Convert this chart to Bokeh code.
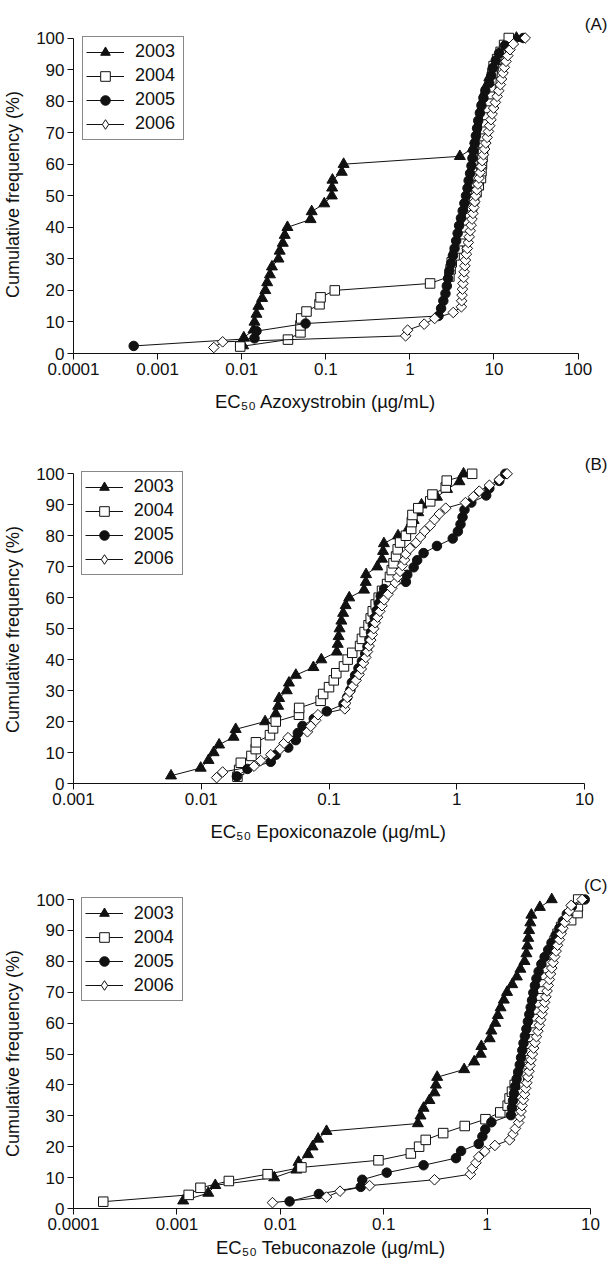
import math
from bokeh.plotting import figure
from bokeh.models import Range1d, FixedTicker, Legend, LegendItem, Label, ColumnDataSource
from bokeh.layouts import column
from bokeh.embed import file_html
from bokeh.resources import INLINE

FONT = "Liberation Sans"
INK = "#111111"
PAGE_W = 608
NBSP = "\u00a0"

YEARS = ["2003", "2004", "2005", "2006"]
Y_TICKS = [0, 10, 20, 30, 40, 50, 60, 70, 80, 90, 100]
Y_TITLE = "Cumulative frequency (%)"

A_TICKS = [0.0001, 0.001, 0.01, 0.1, 1, 10, 100]
A_TICK_LABELS = ["0.0001", "0.001", "0.01", "0.1", "1", "10", "100"]
B_TICKS = [0.001, 0.01, 0.1, 1, 10]
B_TICK_LABELS = ["0.001", "0.01", "0.1", "1", "10"]
C_TICKS = [0.0001, 0.001, 0.01, 0.1, 1, 10]
C_TICK_LABELS = ["0.0001", "0.001", "0.01", "0.1", "1", "10"]

# cumulative frequency levels (%)
Y40 = [2.5, 5, 7.5, 10, 12.5, 15, 17.5, 20, 22.5, 25, 27.5, 30, 32.5, 35, 37.5, 40, 42.5, 45, 47.5, 50,
       52.5, 55, 57.5, 60, 62.5, 65, 67.5, 70, 72.5, 75, 77.5, 80, 82.5, 85, 87.5, 90, 92.5, 95, 97.5, 100]
Y42 = [2.4, 4.8, 7.1, 9.5, 11.9, 14.3, 16.7, 19.0, 21.4, 23.8, 26.2, 28.6, 31.0, 33.3, 35.7, 38.1, 40.5,
       42.9, 45.2, 47.6, 50.0, 52.4, 54.8, 57.1, 59.5, 61.9, 64.3, 66.7, 69.0, 71.4, 73.8, 76.2, 78.6, 81.0,
       83.3, 85.7, 88.1, 90.5, 92.9, 95.2, 97.6, 100]
Y43 = [2.3, 4.7, 7.0, 9.3, 11.6, 14.0, 16.3, 18.6, 20.9, 23.3, 25.6, 27.9, 30.2, 32.6, 34.9, 37.2, 39.5,
       41.9, 44.2, 46.5, 48.8, 51.2, 53.5, 55.8, 58.1, 60.5, 62.8, 65.1, 67.4, 69.8, 72.1, 74.4, 76.7, 79.1,
       81.4, 83.7, 86.0, 88.4, 90.7, 93.0, 95.3, 97.7, 100]
Y45 = [2.2, 4.4, 6.7, 8.9, 11.1, 13.3, 15.6, 17.8, 20.0, 22.2, 24.4, 26.7, 28.9, 31.1, 33.3, 35.6, 37.8,
       40.0, 42.2, 44.4, 46.7, 48.9, 51.1, 53.3, 55.6, 57.8, 60.0, 62.2, 64.4, 66.7, 68.9, 71.1, 73.3, 75.6,
       77.8, 80.0, 82.2, 84.4, 86.7, 88.9, 91.1, 93.3, 95.6, 97.8, 100]
Y54 = [1.9, 3.7, 5.6, 7.4, 9.3, 11.1, 13.0, 14.8, 16.7, 18.5, 20.4, 22.2, 24.1, 25.9, 27.8, 29.6, 31.5,
       33.3, 35.2, 37.0, 38.9, 40.7, 42.6, 44.4, 46.3, 48.1, 50.0, 51.9, 53.7, 55.6, 57.4, 59.3, 61.1, 63.0,
       64.8, 66.7, 68.5, 70.4, 72.2, 74.1, 75.9, 77.8, 79.6, 81.5, 83.3, 85.2, 87.0, 88.9, 90.7, 92.6, 94.4,
       96.3, 98.1, 100]

# (A) Azoxystrobin EC50 (ug/mL)
A2003_X = [0.0104, 0.0106, 0.0138, 0.0142, 0.0150, 0.0158, 0.0175, 0.0191, 0.0201, 0.0217,
           0.0229, 0.0274, 0.0283, 0.0308, 0.0325, 0.0350, 0.066, 0.068, 0.096, 0.118,
           0.119, 0.120, 0.155, 0.163, 3.93, 5.6, 6.0, 6.3, 6.5, 6.8,
           7.0, 7.3, 7.7, 8.2, 8.8, 9.6, 10.5, 11.8, 14.0, 18.5]
A2004_X = [0.0096, 0.0355, 0.050, 0.050, 0.051, 0.059, 0.0843, 0.0867, 0.128, 1.74,
           2.95, 3.05, 3.15, 3.4, 3.7, 4.0, 4.3, 4.6, 4.9, 5.2,
           5.5, 5.8, 6.2, 6.6, 7.0, 7.1, 7.2, 7.3, 7.4, 7.5,
           7.7, 7.9, 8.1, 8.3, 8.5, 8.7, 8.9, 9.1, 9.3, 9.6,
           9.9, 10.9, 12.0, 13.2, 15.0]
A2005_X = [0.00052, 0.0142, 0.0150, 0.0575, 2.19, 2.35, 2.5, 2.65, 2.75, 2.85,
           2.95, 3.1, 3.25, 3.4, 3.55, 3.7, 3.85, 4.05, 4.25, 4.45,
           4.65, 4.85, 5.0, 5.2, 5.4, 5.55, 5.7, 5.9, 6.1, 6.3,
           6.5, 6.8, 7.1, 7.5, 7.9, 8.8, 9.3, 9.7, 10.5, 11.5,
           13.5, 22.3]
A2006_X = [0.00466, 0.00594, 0.89, 0.94, 1.48, 1.97, 3.28, 4.10, 4.13, 4.17,
           4.22, 4.28, 4.35, 4.42, 4.50, 4.58, 4.70, 4.82, 4.95, 5.08,
           5.22, 5.35, 5.48, 5.62, 5.76, 5.90, 6.05, 6.25, 6.45, 6.65,
           6.85, 7.05, 7.25, 7.5, 7.75, 8.0, 8.3, 8.6, 8.9, 9.2,
           9.5, 9.9, 10.4, 10.9, 11.4, 11.9, 12.3, 12.8, 13.3, 13.9,
           14.6, 15.5, 17.0, 23.5]

# (B) Epoxiconazole EC50 (ug/mL)
B2003_X = [0.0058, 0.0099, 0.0114, 0.0125, 0.0138, 0.0179, 0.0186, 0.0316, 0.0383, 0.0400,
           0.0407, 0.0467, 0.0486, 0.055, 0.0755, 0.0871, 0.115, 0.117, 0.119, 0.121,
           0.125, 0.129, 0.135, 0.144, 0.188, 0.194, 0.195, 0.239, 0.260, 0.265,
           0.269, 0.347, 0.42, 0.46, 0.50, 0.53, 0.70, 0.84, 1.05, 1.13]
B2004_X = [0.0192, 0.0198, 0.0204, 0.0247, 0.0267, 0.0268, 0.0345, 0.0365, 0.0383, 0.0582,
           0.0584, 0.086, 0.090, 0.100, 0.109, 0.114, 0.131, 0.140, 0.152, 0.175,
           0.181, 0.190, 0.204, 0.212, 0.220, 0.232, 0.245, 0.260, 0.285, 0.300,
           0.310, 0.320, 0.335, 0.345, 0.360, 0.400, 0.440, 0.445, 0.450, 0.500,
           0.620, 0.645, 0.820, 0.835, 1.32]
B2005_X = [0.019, 0.023, 0.035, 0.0385, 0.048, 0.055, 0.057, 0.062, 0.076, 0.096,
           0.130, 0.139, 0.147, 0.151, 0.160, 0.170, 0.181, 0.192, 0.200, 0.207,
           0.213, 0.220, 0.228, 0.236, 0.245, 0.254, 0.270, 0.40, 0.41, 0.46,
           0.49, 0.55, 0.70, 0.93, 1.02, 1.07, 1.11, 1.15, 1.30, 1.70,
           1.80, 2.15, 2.40]
B2006_X = [0.0132, 0.0147, 0.0259, 0.0292, 0.035, 0.0414, 0.0445, 0.0478, 0.0678, 0.072,
           0.0787, 0.082, 0.133, 0.135, 0.139, 0.145, 0.154, 0.163, 0.172, 0.179,
           0.186, 0.194, 0.200, 0.206, 0.212, 0.218, 0.224, 0.230, 0.240, 0.250,
           0.260, 0.270, 0.290, 0.310, 0.330, 0.345, 0.360, 0.375, 0.390, 0.400,
           0.430, 0.480, 0.520, 0.560, 0.620, 0.670, 0.730, 0.820, 1.17, 1.35,
           1.50, 1.80, 2.15, 2.48]

# (C) Tebuconazole EC50 (ug/mL)
C2003_X = [0.00115, 0.00201, 0.00235, 0.00873, 0.0143, 0.0150, 0.0185, 0.0205, 0.0232, 0.028,
           0.214, 0.227, 0.243, 0.277, 0.310, 0.320, 0.329, 0.60, 0.75, 0.867,
           0.88, 1.06, 1.10, 1.20, 1.27, 1.35, 1.45, 1.56, 1.75, 1.94,
           2.10, 2.30, 2.40, 2.45, 2.50, 2.55, 2.62, 2.68, 3.24, 4.22]
C2004_X = [0.000194, 0.0013, 0.00169, 0.00318, 0.00754, 0.016, 0.089, 0.183, 0.220, 0.255,
           0.376, 0.608, 0.964, 1.34, 1.58, 1.65, 1.74, 1.85, 2.02, 2.15,
           2.28, 2.40, 2.50, 2.60, 2.70, 2.80, 2.90, 3.00, 3.10, 3.20,
           3.30, 3.40, 3.50, 3.62, 3.75, 3.90, 4.05, 4.25, 4.50, 4.80,
           5.2, 6.5, 7.5, 7.55, 7.6]
C2005_X = [0.0123, 0.0236, 0.060, 0.062, 0.107, 0.243, 0.50, 0.56, 0.83, 0.90,
           0.96, 1.10, 1.70, 1.74, 1.78, 1.82, 1.87, 1.93, 2.00, 2.07,
           2.13, 2.19, 2.25, 2.32, 2.40, 2.48, 2.56, 2.64, 2.72, 2.80,
           2.90, 3.00, 3.15, 3.35, 3.60, 3.90, 4.20, 4.60, 5.00, 5.40,
           5.90, 6.60, 8.80]
C2006_X = [0.0084, 0.028, 0.0378, 0.073, 0.31, 0.69, 0.72, 0.78, 0.83, 0.95,
           1.19, 1.65, 1.78, 1.88, 2.02, 2.08, 2.13, 2.18, 2.24, 2.30,
           2.36, 2.42, 2.48, 2.54, 2.60, 2.66, 2.74, 2.82, 2.90, 3.00,
           3.10, 3.20, 3.30, 3.40, 3.50, 3.60, 3.70, 3.80, 3.90, 4.00,
           4.10, 4.22, 4.35, 4.50, 4.65, 4.80, 5.00, 5.20, 5.40, 5.65,
           5.95, 6.25, 6.50, 8.30]

STYLE = {
    "2003": dict(marker="triangle", size=11, fill_color=INK, angle=0.0, legend_marker="triangle"),
    "2004": dict(marker="square", size=9.5, fill_color="white", angle=0.0, legend_marker="square"),
    "2005": dict(marker="circle", size=9.5, fill_color=INK, angle=0.0, legend_marker="circle"),
    "2006": dict(marker="square", size=7.5, fill_color="white", angle=math.pi / 4, legend_marker="diamond"),
}

# page geometry of each panel (pixels): figure top/height, pixel of y=0, y=100,
# pixel of first x tick and pixels per decade; pads shift centred axis titles
PANELS = [
    dict(letter="(A)", xlabel="EC\u2085\u2080 Azoxystrobin (µg/mL)", ticks=A_TICKS, labels=A_TICK_LABELS,
         series=[(A2003_X, Y40), (A2004_X, Y45), (A2005_X, Y42), (A2006_X, Y54)],
         x0=1e-4, x_last=100, fig_top=0, fig_h=430, px_y0=353, px_y100=37.5, px_x0=72, decade=84.25,
         leg_left=81, leg_top=37.7, letter_y=24.4, xlabel_standoff=13, xpad=6, ypad=7),
    dict(letter="(B)", xlabel="EC\u2085\u2080 Epoxiconazole (µg/mL)", ticks=B_TICKS, labels=B_TICK_LABELS,
         series=[(B2003_X, Y40), (B2004_X, Y45), (B2005_X, Y43), (B2006_X, Y54)],
         x0=1e-3, x_last=10, fig_top=430, fig_h=423, px_y0=783, px_y100=473.3, px_x0=73, decade=127.75,
         leg_left=80.7, leg_top=472.7, letter_y=463.5, xlabel_standoff=13, xpad=5, ypad=9),
    dict(letter="(C)", xlabel="EC\u2085\u2080 Tebuconazole (µg/mL)", ticks=C_TICKS, labels=C_TICK_LABELS,
         series=[(C2003_X, Y40), (C2004_X, Y45), (C2005_X, Y43), (C2006_X, Y54)],
         x0=1e-4, x_last=10, fig_top=853, fig_h=413, px_y0=1208, px_y100=899, px_x0=73, decade=103.4,
         leg_left=80.7, leg_top=899, letter_y=884.5, xlabel_standoff=4, xpad=4, ypad=9),
]

PAD, GH, SP = 3, 24, 0
LEG_H = 2 * PAD + 4 * GH + 3 * SP


def make_panel(g):
    ppu = (g["px_y0"] - g["px_y100"]) / 100.0
    frame_h = g["px_y0"] - g["fig_top"]
    y_top = frame_h / ppu
    bl = g["px_x0"]
    fw = PAGE_W - bl
    x_end = 10 ** (math.log10(g["x0"]) + fw / g["decade"])

    def to_data(rx, ry):
        lx = math.log10(g["x0"]) + (rx - bl) / g["decade"]
        return 10 ** lx, (g["px_y0"] - ry) / ppu

    p = figure(width=PAGE_W, height=g["fig_h"], x_axis_type="log",
               x_range=Range1d(g["x0"], x_end), y_range=Range1d(0, y_top),
               min_border_left=bl, min_border_right=0,
               min_border_top=0, min_border_bottom=g["fig_h"] - frame_h,
               output_backend="svg", toolbar_location=None, tools="")
    p.outline_line_color = None
    p.xgrid.visible = False
    p.ygrid.visible = False
    p.background_fill_color = "white"
    p.border_fill_color = "white"

    for ax in (p.xaxis[0], p.yaxis[0]):
        ax.axis_line_color = INK
        ax.axis_line_width = 1
        ax.major_tick_line_color = INK
        ax.major_tick_line_width = 1
        ax.major_tick_out = 6
        ax.major_tick_in = 0
        ax.minor_tick_out = 0
        ax.minor_tick_in = 0
        ax.minor_tick_line_color = None
        ax.major_label_text_font = FONT
        ax.major_label_text_font_size = "17px"
        ax.major_label_text_color = INK
        ax.major_label_standoff = 3
        ax.axis_label_text_font = FONT
        ax.axis_label_text_font_style = "normal"
        ax.axis_label_text_color = INK

    p.xaxis.ticker = FixedTicker(ticks=g["ticks"], minor_ticks=[])
    p.xaxis.major_label_overrides = {t: s for t, s in zip(g["ticks"], g["labels"])}
    p.xaxis.bounds = (g["x0"], g["x_last"])
    # trailing no-break spaces centre the title under the drawn axis (0..last tick)
    p.xaxis.axis_label = g["xlabel"] + NBSP * g["xpad"]
    p.xaxis.axis_label_text_font_size = "18.5px"
    p.xaxis.axis_label_standoff = g["xlabel_standoff"]

    p.yaxis.ticker = FixedTicker(ticks=Y_TICKS, minor_ticks=[])
    p.yaxis.bounds = (0, 100)
    p.yaxis.axis_label = Y_TITLE + NBSP * g["ypad"]
    p.yaxis.axis_label_text_font_size = "18px"
    p.yaxis.axis_label_standoff = 10

    items = []
    for yr, (xs, ys) in zip(YEARS, g["series"]):
        src = ColumnDataSource(dict(x=xs, y=ys))
        st = STYLE[yr]
        lr = p.line("x", "y", source=src, line_color=INK, line_width=1)
        sr = p.scatter("x", "y", source=src, marker=st["marker"], size=st["size"],
                       fill_color=st["fill_color"], line_color=INK, line_width=1, angle=st["angle"])
        if st["legend_marker"] != st["marker"]:
            legend_r = p.scatter("x", "y", source=src, marker=st["legend_marker"], size=st["size"],
                                 fill_color=st["fill_color"], line_color=INK, line_width=1, visible=False)
        else:
            legend_r = sr
        items.append(LegendItem(label=yr, renderers=[lr, legend_r]))

    leg = Legend(items=items,
                 location=(g["leg_left"] - bl, g["px_y0"] - (g["leg_top"] + LEG_H)),
                 margin=0, padding=PAD, spacing=SP, glyph_width=38, glyph_height=GH,
                 label_height=GH, label_width=45, label_standoff=11,
                 label_text_font=FONT, label_text_font_size="18px", label_text_color=INK,
                 border_line_color=INK, border_line_width=1,
                 background_fill_color="white", background_fill_alpha=1.0,
                 inactive_fill_alpha=0.0)
    p.add_layout(leg)

    lx, ly = to_data(607, g["letter_y"])
    p.add_layout(Label(x=lx, y=ly, text=g["letter"], text_align="right", text_baseline="alphabetic",
                       text_font=FONT, text_font_size="17px", text_color=INK))
    return p


figs = [make_panel(g) for g in PANELS]
layout = column(*figs, spacing=0)

open("out.html", "w").write(file_html(layout, INLINE))
